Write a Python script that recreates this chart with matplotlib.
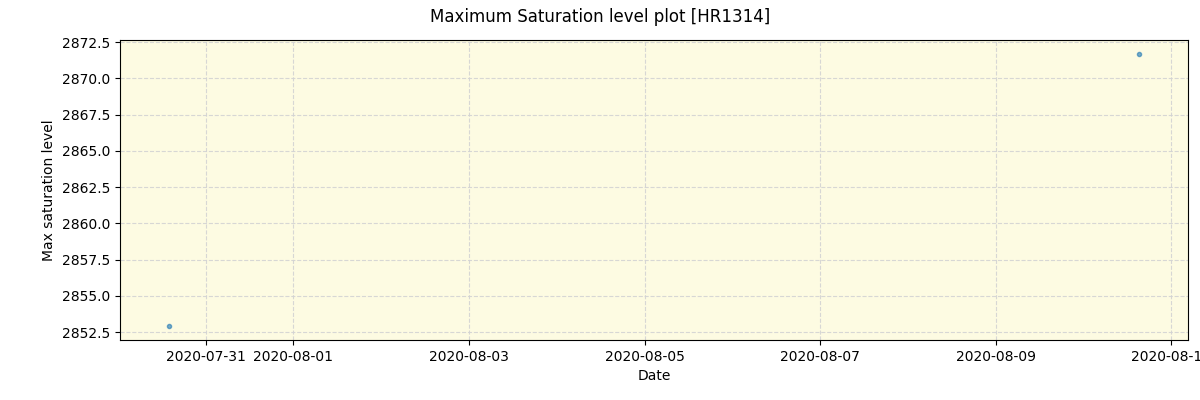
import matplotlib
matplotlib.use("Agg")
import matplotlib.pyplot as plt
import pandas as pd

dates = pd.to_datetime(["2020-07-30 13:50", "2020-08-10 15:20"])
max_sat = [2852.9, 2871.7]

fig, ax = plt.subplots(figsize=(12, 4), dpi=100)
ax.set_facecolor("#fdfbe2")
ax.plot(dates, max_sat, "o", color="tab:blue", alpha=0.6, markersize=3, linestyle="none")
ax.grid(True, linestyle="--", color="lightgray", alpha=0.9)
ax.set_xlabel("Date")
ax.set_ylabel("Max saturation level")
fig.suptitle("Maximum Saturation level plot [HR1314]")
ax.xaxis.set_major_formatter(matplotlib.dates.DateFormatter("%Y-%m-%d"))
fig.subplots_adjust(left=0.1, right=0.99, top=0.9, bottom=0.15)
fig.savefig("out.png")
